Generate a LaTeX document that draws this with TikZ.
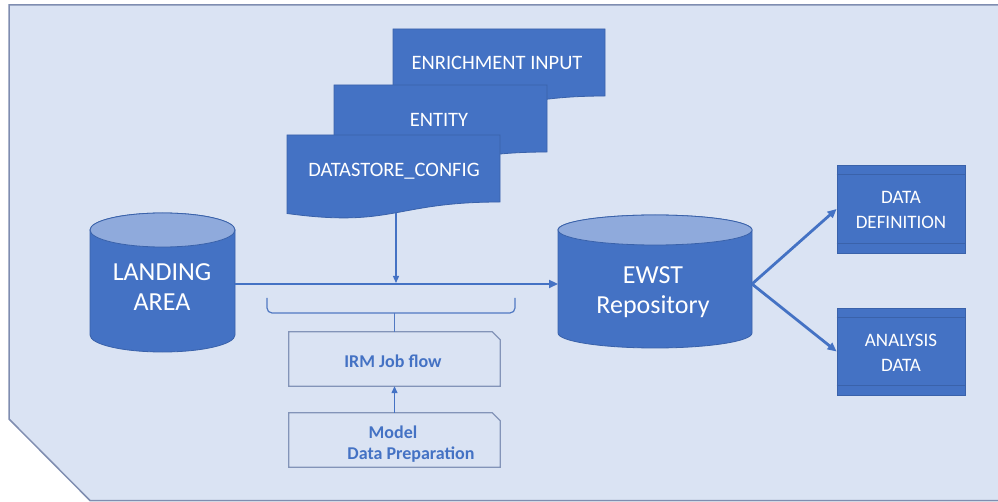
\documentclass[tikz,border=0pt]{standalone}
\usepackage{fontspec}
\setmainfont{Carlito}
\usetikzlibrary{arrows.meta}
\definecolor{bgfill}{HTML}{DAE3F3}
\definecolor{frameline}{HTML}{7F8DB0}
\definecolor{blockfill}{HTML}{4472C4}
\definecolor{blockedge}{HTML}{3A62AA}
\definecolor{captop}{HTML}{8FAADC}
\definecolor{flowline}{HTML}{4472C4}
\definecolor{softedge}{HTML}{8394B8}
\begin{document}
\begin{tikzpicture}[x=1pt,y=-1pt,
  block/.style={fill=blockfill,draw=blockedge,line width=0.8pt},
  wtext/.style={text=white,align=center,inner sep=0pt},
  doctext/.style={wtext,font=\fontsize{20.5}{24}\selectfont},
  cyltext/.style={wtext,font=\fontsize{26}{30}\selectfont},
  boxtext/.style={wtext,font=\fontsize{19}{25}\selectfont},
  ghost/.style={inner sep=0pt,minimum width=211pt,minimum height=54pt},
  softbox/.style={draw=softedge,line width=1.2pt},
  softtext/.style={text=blockfill,inner sep=0pt,font=\fontsize{18}{20}\selectfont\bfseries},
  mainarrow/.style={draw=flowline,line width=2.8pt,-{Triangle[length=9pt,width=8pt]}},
  thinarrow/.style={draw=flowline,line width=1.3pt,-{Triangle[length=7pt,width=6pt]}},
  bracketline/.style={draw=flowline!80!softedge,line width=1.2pt}
]
\useasboundingbox (0,0) rectangle (998,502);
\clip (0,0) rectangle (998,502);

% background panel with the cut lower-left corner
\draw[fill=bgfill,draw=frameline,line width=1.5pt]
  (9,5) -- (1010,5) -- (1010,500.5) -- (90,500.5) -- (9,419) -- cycle;

% stacked input documents
\path[block] (393,29) -- (605,29) -- (605,96)
  .. controls (499,96) and (499,122) .. (393,107.5) -- cycle;
\node[doctext] (enrich) at (497,63) {ENRICHMENT INPUT};
\path[block] (334,85) -- (547,85) -- (547,152)
  .. controls (440.5,152) and (440.5,178) .. (334,163.5) -- cycle;
\node[doctext] (entity) at (439,120) {ENTITY};
\path[block] (287,135) -- (500,135) -- (500,202)
  .. controls (393.5,202) and (393.5,228) .. (287,213.5) -- cycle;
\node[doctext] (dsconf) at (394,171) {DATASTORE\_CONFIG};

% landing area cylinder
\path[block] (90,230) -- (90,335)
  arc[start angle=180,end angle=0,x radius=72.5,y radius=17]
  -- (235,230)
  arc[start angle=0,end angle=-180,x radius=72.5,y radius=17] -- cycle;
\draw[block,fill=captop] (162.5,230) ellipse[x radius=72.5,y radius=17];
\node[cyltext] (landing) at (162,287) {LANDING\\AREA};

% repository cylinder
\path[block] (558,230) -- (558,333)
  arc[start angle=180,end angle=0,x radius=97,y radius=15]
  -- (752,230)
  arc[start angle=0,end angle=-180,x radius=97,y radius=15] -- cycle;
\draw[block,fill=captop] (655,230) ellipse[x radius=97,y radius=15];
\node[cyltext] (ewst) at (653,292) {EWST\\Repository};

% output boxes
\node[block,minimum width=128pt,minimum height=88pt] (datadef) at (901,209) {};
\draw[blockedge,line width=0.8pt] ([yshift=-10pt]datadef.north west) -- ([yshift=-10pt]datadef.north east);
\draw[blockedge,line width=0.8pt] ([yshift=10pt]datadef.south west) -- ([yshift=10pt]datadef.south east);
\node[boxtext] (datadeftext) at (901,210) {DATA\\DEFINITION};

\node[block,minimum width=128pt,minimum height=87pt] (analysis) at (901,351.5) {};
\draw[blockedge,line width=0.8pt] ([yshift=-10pt]analysis.north west) -- ([yshift=-10pt]analysis.north east);
\draw[blockedge,line width=0.8pt] ([yshift=10pt]analysis.south west) -- ([yshift=10pt]analysis.south east);
\node[boxtext] (analysistext) at (901,353) {ANALYSIS\\DATA};

% connection points on the main flow
\coordinate (landing-out) at (235,284);
\coordinate (ewst-in) at (558,284);
\coordinate (ewst-out) at (752,284);
\coordinate (ds-foot) at (396,213);
\coordinate (merge) at (396,283);
\coordinate (brace-mid) at (394.5,313);

\draw[mainarrow] (landing-out) -- (ewst-in);
\draw[thinarrow] (ds-foot) -- (merge);
\draw[mainarrow] (ewst-out) -- (datadef.west);
\draw[mainarrow] (ewst-out) -- (analysis.west);

% job flow boxes below the main line
\node[ghost] (irm) at (394.5,359) {};
\draw[softbox] (irm.north west) -- ([xshift=-8pt]irm.north east) -- ([yshift=-8pt]irm.north east)
  -- (irm.south east) -- (irm.south west) -- cycle;
\node[softtext] (irmtext) at (393,361) {IRM Job flow};

\node[ghost] (model) at (394.5,440) {};
\draw[softbox] (model.north west) -- ([xshift=-8pt]model.north east) -- ([yshift=-8pt]model.north east)
  -- (model.south east) -- (model.south west) -- cycle;
\node[softtext] (modeltext) at (393,432) {Model};
\node[softtext] (preptext) at (411,455) {Data Preparation};

\draw[thinarrow] (model.north) -- (irm.south);

% bracket gathering the main line onto the job flow
\draw[bracketline,rounded corners=5pt] (267,298) -- (267,313) -- (515,313) -- (515,298);
\draw[bracketline] (brace-mid) -- (irm.north);
\end{tikzpicture}
\end{document}
